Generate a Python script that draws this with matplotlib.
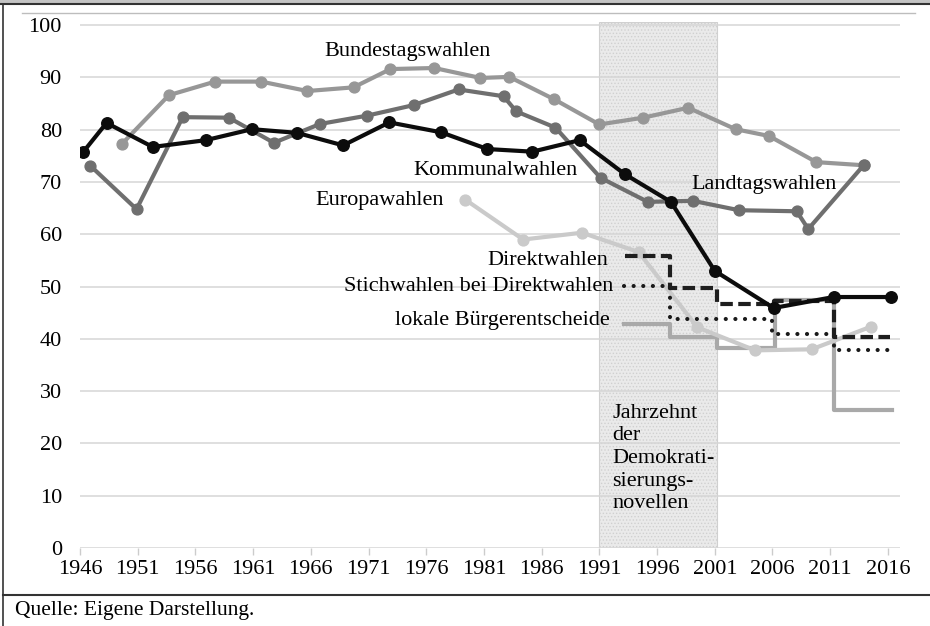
import matplotlib
matplotlib.use("Agg")
import matplotlib.pyplot as plt
from matplotlib.patches import Rectangle
from matplotlib.lines import Line2D

plt.rcParams['font.family'] = ['Liberation Serif', 'DejaVu Serif']
plt.rcParams['hatch.linewidth'] = 0.6
plt.rcParams['hatch.color'] = '#d0d0d0'

# ---------------- data ----------------
komm_x = [1946.3, 1948.3, 1952.3, 1956.9, 1960.9, 1964.8, 1968.8, 1972.8, 1977.3,
          1981.3, 1985.2, 1989.3, 1993.2, 1997.2, 2001.0, 2006.1, 2011.3, 2016.3]
komm_y = [75.8, 81.3, 76.7, 78.0, 80.1, 79.4, 77.0, 81.4, 79.5,
          76.3, 75.8, 78.0, 71.5, 66.2, 53.0, 45.9, 48.0, 48.0]

land_x = [1946.9, 1950.9, 1954.9, 1958.9, 1962.8, 1966.8, 1970.9, 1974.9, 1978.8, 1982.7,
          1983.8, 1987.2, 1991.1, 1995.2, 1999.1, 2003.1, 2008.1, 2009.1, 2013.9]
land_y = [73.1, 64.8, 82.4, 82.3, 77.5, 81.1, 82.7, 84.7, 87.7, 86.4,
          83.5, 80.4, 70.8, 66.2, 66.4, 64.6, 64.4, 61.0, 73.2]

bund_x = [1949.6, 1953.7, 1957.7, 1961.7, 1965.7, 1969.7, 1972.9, 1976.7, 1980.7,
          1983.2, 1987.1, 1991.0, 1994.8, 1998.7, 2002.8, 2005.7, 2009.8, 2013.9]
bund_y = [77.2, 86.6, 89.2, 89.2, 87.4, 88.1, 91.6, 91.8, 89.9,
          90.1, 85.8, 81.0, 82.3, 84.2, 80.1, 78.8, 73.8, 73.2]

euro_x = [1979.4, 1984.4, 1989.5, 1994.4, 1999.5, 2004.5, 2009.4, 2014.5]
euro_y = [66.6, 59.0, 60.3, 56.6, 42.2, 37.8, 38.0, 42.3]

direkt_x = [1993.2, 1997.1, 2001.2, 2006.1, 2011.3, 2016.2]
direkt_y = [55.8, 49.7, 46.6, 47.3, 40.3, 40.3]

stich_x = [1993.1, 1997.1, 2006.0, 2011.3, 2016.0]
stich_y = [50.1, 43.8, 40.9, 37.9, 37.9]

buerger_x = [1993.1, 1997.1, 2001.2, 2006.2, 2011.3, 2016.4]
buerger_y = [42.8, 40.4, 38.2, 47.4, 26.4, 26.4]

decade_start, decade_end = 1991, 2001.2

x_ticks = list(range(1946, 2017, 5))
y_ticks = list(range(0, 101, 10))

# ---------------- figure ----------------
W, H = 930, 626
fig = plt.figure(figsize=(W / 100, H / 100), dpi=100)
ax = fig.add_axes([80 / W, 78 / H, 820 / W, 526 / H])
ax.set_xlim(1946, 2017.05)
ax.set_ylim(0, 100.6)
for s in ax.spines.values():
    s.set_visible(False)

for v in y_ticks:
    ax.axhline(v, color='#d6d6d6', lw=1.1, zorder=1)

ax.add_patch(Rectangle((decade_start, 0), decade_end - decade_start, 100.6,
                       facecolor='#eaeaea', edgecolor='#d0d0d0', hatch='.....',
                       lw=0.8, zorder=0.5))

ax.set_xticks(x_ticks)
ax.set_xticklabels([str(t) for t in x_ticks])
ax.set_yticks(y_ticks)
ax.tick_params(axis='x', direction='out', length=5, width=1, color='#cccccc',
               labelsize=16, pad=4)
ax.tick_params(axis='y', length=0, labelsize=16, pad=13)

lw = 3.0
ax.step(buerger_x, buerger_y, where='post', color='#a9a9a9', lw=lw, zorder=2)
ax.plot(euro_x, euro_y, color='#cacaca', lw=lw, marker='o', ms=7.8, zorder=3)
ax.step(stich_x, stich_y, where='post', color='#1a1a1a', lw=lw,
        linestyle=(0, (0.01, 2.3)), dash_capstyle='round', zorder=4)
ax.step(direkt_x, direkt_y, where='post', color='#1e1e1e', lw=lw,
        linestyle=(0, (3, 1.3)), dash_capstyle='butt', zorder=5)
ax.plot(bund_x, bund_y, color='#979797', lw=lw, marker='o', ms=7.8, zorder=6)
ax.plot(land_x, land_y, color='#6f6f6f', lw=lw, marker='o', ms=7.8, zorder=7)
ax.plot(komm_x, komm_y, color='#0c0c0c', lw=lw, marker='o', ms=8.3, zorder=8)

fs = 16
ax.text(1974.4, 95.0, 'Bundestagswahlen', fontsize=fs, ha='center', va='center', zorder=9)
ax.text(1982.0, 72.2, 'Kommunalwahlen', fontsize=fs, ha='center', va='center', zorder=9)
ax.text(1972.0, 66.4, 'Europawahlen', fontsize=fs, ha='center', va='center', zorder=9)
ax.text(2005.3, 69.6, 'Landtagswahlen', fontsize=fs, ha='center', va='center', zorder=9)
ax.text(1991.75, 54.9, 'Direktwahlen', fontsize=fs, ha='right', va='center', zorder=9)
ax.text(1992.2, 50.0, 'Stichwahlen bei Direktwahlen', fontsize=fs, ha='right',
        va='center', zorder=9)
ax.text(1991.9, 43.5, 'lokale Bürgerentscheide', fontsize=fs, ha='right',
        va='center', zorder=9)
ax.text(1992.1, 27.6, 'Jahrzehnt\nder\nDemokrati-\nsierungs-\nnovellen', fontsize=fs,
        ha='left', va='top', linespacing=1.26, zorder=9)


# ---------------- frame ----------------
def fx(px):
    return px / W


def fy(py):
    return 1 - py / H


fig.add_artist(Rectangle((0, fy(3)), 1, 3 / H, transform=fig.transFigure,
                         facecolor='#c4c4c4', edgecolor='none'))
fig.add_artist(Line2D([0, 1], [fy(4), fy(4)], transform=fig.transFigure,
                      color='#333333', lw=1.5))
fig.add_artist(Line2D([fx(3), fx(3)], [fy(4), 0], transform=fig.transFigure,
                      color='#333333', lw=1.2))
fig.add_artist(Line2D([fx(3), 1], [fy(595), fy(595)], transform=fig.transFigure,
                      color='#333333', lw=1.5))
fig.add_artist(Line2D([fx(22), fx(915)], [fy(12.5), fy(12.5)], transform=fig.transFigure,
                      color='#bdbdbd', lw=1.0))

fig.text(fx(15), fy(610), 'Quelle: Eigene Darstellung.', fontsize=15.5,
         ha='left', va='center')

fig.savefig('out.png', dpi=100)
